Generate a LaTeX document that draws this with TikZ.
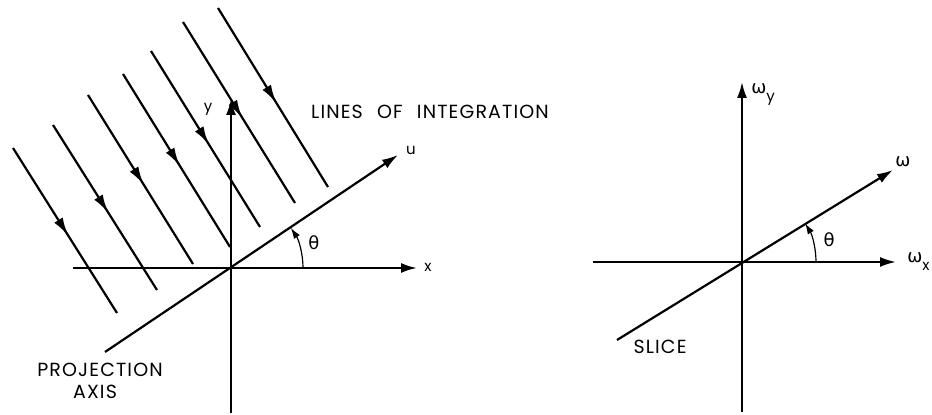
\documentclass[tikz,border=0pt]{standalone}
\usepackage{fontspec}
\setmainfont{Poppins}
\newfontfamily\greekfont{DejaVu Sans}
\usetikzlibrary{arrows.meta,decorations.markings}
\tikzset{
  axis/.style={line width=1.1pt,-{Latex[length=8pt,width=5pt]}},
  integ/.style={line width=1.1pt,postaction={decorate},decoration={markings,mark=at position 0.53 with {\arrow{Latex[length=9pt,width=5pt]}}}},
  anglearc/.style={line width=0.6pt,-{Latex[length=5.5pt,width=3.5pt]}},
  caps/.style={font=\fontsize{9.5}{11}\selectfont\addfontfeatures{LetterSpace=6}, inner sep=0pt},
  lbl/.style={font=\fontsize{7.5}{8}\selectfont, inner sep=0pt},
  glbl/.style={font=\fontsize{9}{10}\selectfont\greekfont, inner sep=0pt}
}
\newcommand{\subl}[1]{\raisebox{-4pt}{\fontsize{7.5}{8}\selectfont\normalfont #1}}
\begin{document}
\begin{tikzpicture}[x=0.5pt,y=0.5pt]
\useasboundingbox (0,0) rectangle (932,415);
% ---------- left diagram ----------
\coordinate (O1) at (231,147);
\coordinate (xL) at (73,147);
\coordinate (xR) at (417,147);
\coordinate (yB) at (231,2);
\coordinate (yT) at (231,316);
\coordinate (uB) at (105,63);
\coordinate (uT) at (398,260);
\draw[axis] (xL) -- (xR);
\draw[axis] (yB) -- (yT);
\draw[axis] (uB) -- (uT);
% lines of integration
\coordinate (a1) at (13,267);  \coordinate (b1) at (117,102);
\coordinate (a2) at (53,290);  \coordinate (b2) at (157,125);
\coordinate (a3) at (88,320);  \coordinate (b3) at (193,151);
\coordinate (a4) at (123,341); \coordinate (b4) at (230,168);
\coordinate (a5) at (151,364); \coordinate (b5) at (260,188);
\coordinate (a6) at (183,393); \coordinate (b6) at (295,212);
\coordinate (a7) at (218,407); \coordinate (b7) at (328,228);
\foreach \i in {1,...,7} { \draw[integ] (a\i) -- (b\i); }
% angle
\coordinate (t1s) at (303,147);
\draw[anglearc] (t1s) arc[start angle=0,end angle=33.9,radius=72];
\node[glbl] (th1) at (314,172) {θ};
\node[lbl] (lx) at (428,148) {x};
\node[lbl] (ly) at (208,306) {y};
\node[lbl] (lu) at (411,265) {u};
\node[caps] (lines) at (430,303) {LINES\hspace{4pt} OF\hspace{4pt} INTEGRATION};
\node[caps] (proj) at (100,45) {PROJECTION};
\node[caps] (axis) at (95,23) {AXIS};
% ---------- right diagram ----------
\coordinate (O2) at (742,153);
\coordinate (wxL) at (593,153);
\coordinate (wxR) at (896,153);
\coordinate (wyB) at (742,3);
\coordinate (wyT) at (742,333);
\coordinate (wB) at (617,75);
\coordinate (wT) at (893,245);
\draw[axis] (wxL) -- (wxR);
\draw[axis] (wyB) -- (wyT);
\draw[axis] (wB) -- (wT);
\coordinate (t2s) at (816,153);
\draw[anglearc] (t2s) arc[start angle=0,end angle=31.6,radius=74];
\node[glbl] (th2) at (829,175) {θ};
\node[glbl,anchor=west] (lwx) at (907,153) {ω\subl{x}};
\node[glbl,anchor=west] (lwy) at (751,320) {ω\subl{y}};
\node[glbl] (lw) at (903,253) {ω};
\node[caps] (slice) at (660,68) {SLICE};
\end{tikzpicture}
\end{document}
